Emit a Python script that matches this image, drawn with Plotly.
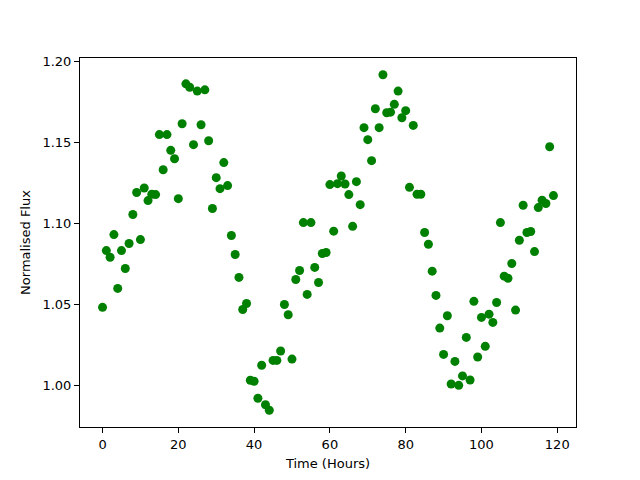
import plotly.graph_objects as go

time_hours = list(range(120))
flux = [
    1.0480, 1.0831, 1.0790, 1.0930, 1.0597, 1.0831, 1.0720, 1.0875, 1.1054, 1.1190,
    1.0899, 1.1218, 1.1140, 1.1179, 1.1177, 1.1548, 1.1331, 1.1548, 1.1451, 1.1399,
    1.1152, 1.1615, 1.1862, 1.1841, 1.1486, 1.1817, 1.1609, 1.1825, 1.1510, 1.1091,
    1.1282, 1.1214, 1.1375, 1.1233, 1.0924, 1.0807, 1.0665, 1.0467, 1.0504, 1.0029,
    1.0023, 0.9918, 1.0122, 0.9878, 0.9844, 1.0152, 1.0152, 1.0210, 1.0498, 1.0434,
    1.0160, 1.0652, 1.0708, 1.1004, 1.0560, 1.1004, 1.0727, 1.0634, 1.0813, 1.0819,
    1.1239, 1.0951, 1.1245, 1.1292, 1.1243, 1.1177, 1.0981, 1.1257, 1.1115, 1.1591,
    1.1517, 1.1387, 1.1708, 1.1591, 1.1918, 1.1683, 1.1687, 1.1735, 1.1817, 1.1652,
    1.1696, 1.1222, 1.1605, 1.1179, 1.1179, 1.0943, 1.0870, 1.0704, 1.0554, 1.0352,
    1.0189, 1.0428, 1.0006, 1.0146, 0.9998, 1.0056, 1.0294, 1.0031, 1.0517, 1.0173,
    1.0418, 1.0239, 1.0438, 1.0387, 1.0510, 1.1004, 1.0673, 1.0660, 1.0751, 1.0463,
    1.0895, 1.1111, 1.0943, 1.0949, 1.0825, 1.1097, 1.1142, 1.1122, 1.1473, 1.1171,
]

x_ticks = [0, 20, 40, 60, 80, 100, 120]
y_ticks = [1.00, 1.05, 1.10, 1.15, 1.20]
y_tick_text = ["1.00", "1.05", "1.10", "1.15", "1.20"]

def padded(vals, frac=0.05):
    lo, hi = min(vals), max(vals)
    d = (hi - lo) * frac
    return [lo - d, hi + d]

font = dict(family="DejaVu Sans", size=13, color="black")

fig = go.Figure(
    go.Scatter(
        x=time_hours, y=flux, mode="markers",
        marker=dict(color="#008000", size=9, line=dict(width=0)),
    )
)

axis_common = dict(
    showgrid=False, zeroline=False, showline=True, linecolor="black",
    linewidth=1, mirror=True, ticks="outside", ticklen=5, tickwidth=1,
    tickcolor="black", tickfont=font, automargin=False,
)

fig.update_layout(
    width=640, height=480,
    paper_bgcolor="white", plot_bgcolor="white",
    margin=dict(l=80, r=64, t=58, b=53),
    showlegend=False,
    font=font,
    xaxis=dict(range=padded(time_hours), tickvals=x_ticks,
               title=dict(text="Time (Hours)", font=font, standoff=8), **axis_common),
    yaxis=dict(range=padded(flux), tickvals=y_ticks, ticktext=y_tick_text,
               title=dict(text="Normalised Flux", font=font, standoff=8), **axis_common),
)

fig.write_html(
    "out.html",
    config={"displayModeBar": False},
    post_script="document.body.style.margin='0';document.body.style.padding='0';",
)
